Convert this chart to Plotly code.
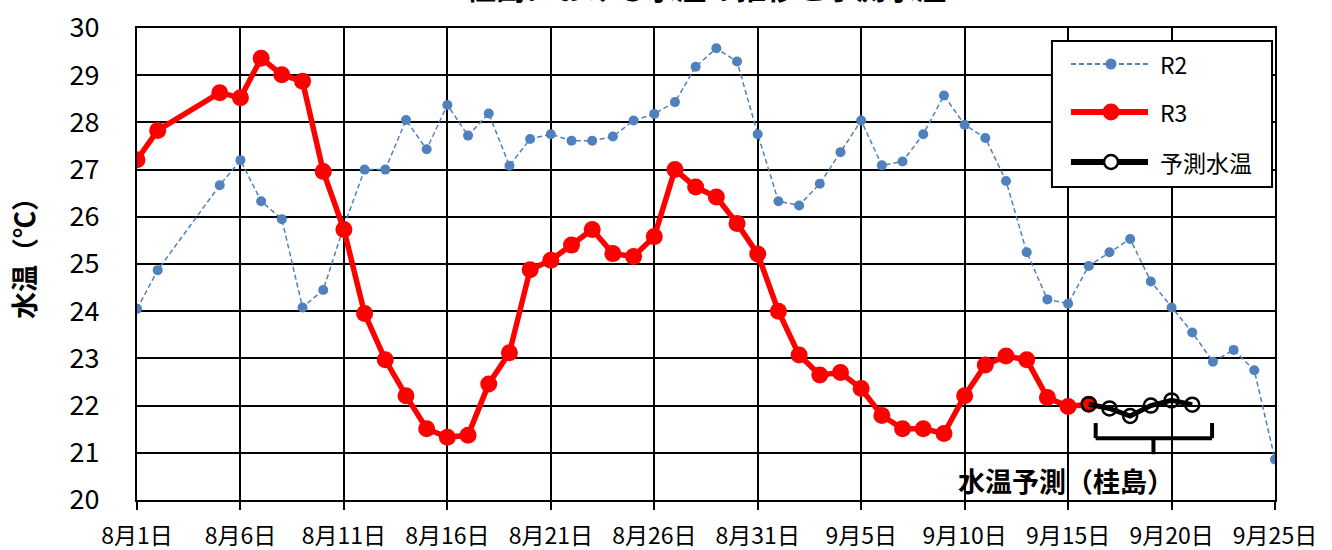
import plotly.graph_objects as go

# ---- data ----
r2_dates = ["2021-08-01", "2021-08-02", "2021-08-05", "2021-08-06", "2021-08-07", "2021-08-08",
            "2021-08-09", "2021-08-10", "2021-08-11", "2021-08-12", "2021-08-13", "2021-08-14",
            "2021-08-15", "2021-08-16", "2021-08-17", "2021-08-18", "2021-08-19", "2021-08-20",
            "2021-08-21", "2021-08-22", "2021-08-23", "2021-08-24", "2021-08-25", "2021-08-26",
            "2021-08-27", "2021-08-28", "2021-08-29", "2021-08-30", "2021-08-31", "2021-09-01",
            "2021-09-02", "2021-09-03", "2021-09-04", "2021-09-05", "2021-09-06", "2021-09-07",
            "2021-09-08", "2021-09-09", "2021-09-10", "2021-09-11", "2021-09-12", "2021-09-13",
            "2021-09-14", "2021-09-15", "2021-09-16", "2021-09-17", "2021-09-18", "2021-09-19",
            "2021-09-20", "2021-09-21", "2021-09-22", "2021-09-23", "2021-09-24", "2021-09-25"]
r2_values = [24.05, 24.87, 26.67, 27.2, 26.33, 25.95,
             24.08, 24.45, 25.8, 27.0, 27.0, 28.05,
             27.43, 28.37, 27.72, 28.19, 27.08, 27.65,
             27.75, 27.61, 27.61, 27.70, 28.04, 28.18,
             28.43, 29.18, 29.57, 29.29, 27.75, 26.33,
             26.24, 26.70, 27.37, 28.04, 27.09, 27.17,
             27.75, 28.57, 27.95, 27.67, 26.76, 25.25,
             24.25, 24.16, 24.96, 25.25, 25.53, 24.63,
             24.08, 23.55, 22.93, 23.18, 22.75, 20.86]

r3_dates = ["2021-08-01", "2021-08-02", "2021-08-05", "2021-08-06", "2021-08-07", "2021-08-08",
            "2021-08-09", "2021-08-10", "2021-08-11", "2021-08-12", "2021-08-13", "2021-08-14",
            "2021-08-15", "2021-08-16", "2021-08-17", "2021-08-18", "2021-08-19", "2021-08-20",
            "2021-08-21", "2021-08-22", "2021-08-23", "2021-08-24", "2021-08-25", "2021-08-26",
            "2021-08-27", "2021-08-28", "2021-08-29", "2021-08-30", "2021-08-31", "2021-09-01",
            "2021-09-02", "2021-09-03", "2021-09-04", "2021-09-05", "2021-09-06", "2021-09-07",
            "2021-09-08", "2021-09-09", "2021-09-10", "2021-09-11", "2021-09-12", "2021-09-13",
            "2021-09-14", "2021-09-15", "2021-09-16"]
r3_values = [27.21, 27.83, 28.63, 28.52, 29.36, 29.01,
             28.87, 26.96, 25.73, 23.95, 22.97, 22.21,
             21.51, 21.33, 21.37, 22.46, 23.12, 24.88,
             25.08, 25.40, 25.73, 25.22, 25.16, 25.58,
             27.0, 26.63, 26.42, 25.86, 25.21, 24.0,
             23.07, 22.65, 22.70, 22.36, 21.79, 21.51,
             21.51, 21.41, 22.21, 22.86, 23.05, 22.97,
             22.17, 21.98, 22.03]

fc_dates = ["2021-09-16", "2021-09-17", "2021-09-18", "2021-09-19", "2021-09-20", "2021-09-21"]
fc_values = [22.03, 21.94, 21.78, 22.0, 22.11, 22.02]

series_names = ["R2", "R3", "予測水温"]

tick_dates = ["2021-08-01", "2021-08-06", "2021-08-11", "2021-08-16", "2021-08-21", "2021-08-26",
              "2021-08-31", "2021-09-05", "2021-09-10", "2021-09-15", "2021-09-20", "2021-09-25"]
tick_labels = ["8月1日", "8月6日", "8月11日", "8月16日", "8月21日", "8月26日",
               "8月31日", "9月5日", "9月10日", "9月15日", "9月20日", "9月25日"]
y_ticks = [20, 21, 22, 23, 24, 25, 26, 27, 28, 29, 30]

FONT = "Noto Sans CJK JP"
C_R2 = "#4F81BD"
C_R3 = "#FF0000"
C_FC = "#000000"

fig = go.Figure()
fig.add_trace(go.Scatter(
    x=r2_dates, y=r2_values, name=series_names[0], mode="lines+markers",
    line=dict(color=C_R2, width=1.5, dash="5px,3px"),
    marker=dict(color=C_R2, size=10), showlegend=False,
))
fig.add_trace(go.Scatter(
    x=r3_dates, y=r3_values, name=series_names[1], mode="lines+markers",
    line=dict(color=C_R3, width=5.5),
    marker=dict(color=C_R3, size=17), showlegend=False,
))
fig.add_trace(go.Scatter(
    x=fc_dates, y=fc_values, name=series_names[2], mode="lines+markers",
    line=dict(color=C_FC, width=5),
    marker=dict(color=C_FC, size=14, symbol="circle-open", line=dict(width=2.5)),
    showlegend=False,
))

# ---- custom legend box (paper coordinates) ----
fig.add_shape(type="rect", xref="paper", yref="paper", x0=0.804, x1=0.9974, y0=0.6631, y1=0.9725,
              line=dict(color="black", width=2), fillcolor="white", layer="above")
leg_y = [0.9237, 0.8220, 0.7161]
lx0, lx1, lxm, ltx = 0.8207, 0.8884, 0.8559, 0.8972
styles = [
    dict(line=dict(color=C_R2, width=2, dash="5px,3px"), msize=11, mfill=C_R2, mline=C_R2, mlw=0),
    dict(line=dict(color=C_R3, width=6), msize=17, mfill=C_R3, mline=C_R3, mlw=0),
    dict(line=dict(color=C_FC, width=6), msize=14, mfill="white", mline=C_FC, mlw=2.5),
]
for yv, nm, st in zip(leg_y, series_names, styles):
    fig.add_shape(type="line", xref="paper", yref="paper", x0=lx0, x1=lx1, y0=yv, y1=yv,
                  line=st["line"], layer="above")
    r = st["msize"] / 2
    fig.add_shape(type="circle", xref="paper", yref="paper", xsizemode="pixel", ysizemode="pixel",
                  xanchor=lxm, yanchor=yv, x0=-r, x1=r, y0=-r, y1=r,
                  fillcolor=st["mfill"], line=dict(color=st["mline"], width=st["mlw"]), layer="above")
    fig.add_annotation(x=ltx, y=yv, xref="paper", yref="paper", xanchor="left", yanchor="middle",
                       text=nm, showarrow=False, font=dict(family=FONT, size=23, color="black"))

# ---- bracket under forecast ----
bk = dict(color="black", width=4)
fig.add_shape(type="line", xref="x", yref="y", x0="2021-09-16 08:00", x1="2021-09-16 08:00", y0=21.63, y1=21.31, line=bk)
fig.add_shape(type="line", xref="x", yref="y", x0="2021-09-21 23:00", x1="2021-09-21 23:00", y0=21.63, y1=21.31, line=bk)
fig.add_shape(type="line", xref="x", yref="y", x0="2021-09-16 08:00", x1="2021-09-21 23:00", y0=21.31, y1=21.31, line=bk)
fig.add_shape(type="line", xref="x", yref="y", x0="2021-09-19 03:00", x1="2021-09-19 03:00", y0=21.31, y1=20.97, line=bk)

fig.add_annotation(x="2021-09-14 21:00", y=20.42, xref="x", yref="y", text="<b>水温予測（桂島）</b>",
                   showarrow=False, font=dict(family=FONT, size=27, color="black"))

# y-axis title
fig.add_annotation(x=0, y=0.5, xref="paper", yref="paper", xanchor="center", yanchor="middle",
                   xshift=-114, yshift=12,
                   text="<b>水温（℃）</b>", textangle=-90, showarrow=False,
                   font=dict(family=FONT, size=27, color="black"))

# chart title (cut off at the top of the image, as in the reference)
fig.add_annotation(x=0.5, y=1, xref="paper", yref="paper", yanchor="bottom", yshift=18,
                   text="<b>桂島における水温の推移と予測水温</b>", showarrow=False,
                   font=dict(family=FONT, size=30, color="black"))

fig.update_layout(
    width=1332, height=550,
    margin=dict(l=137, r=57, t=28, b=50, autoexpand=False),
    paper_bgcolor="white", plot_bgcolor="white",
    font=dict(family=FONT, color="black"),
    showlegend=False,
    xaxis=dict(
        type="date", range=["2021-08-01", "2021-09-25"], automargin=False,
        tickvals=tick_dates, ticktext=tick_labels,
        showgrid=True, gridcolor="black", gridwidth=2,
        showline=True, linecolor="black", linewidth=2, mirror=True,
        ticks="outside", ticklen=8, tickwidth=2, tickcolor="black",
        ticklabelstandoff=6,
        tickfont=dict(family=FONT, size=23, color="black"),
        zeroline=False,
    ),
    yaxis=dict(
        range=[20, 30], tickvals=y_ticks, automargin=False,
        showgrid=True, gridcolor="black", gridwidth=2,
        showline=True, linecolor="black", linewidth=2, mirror=True,
        ticks="", ticklabelstandoff=30,
        tickfont=dict(family=FONT, size=27, color="black"),
        zeroline=False,
    ),
)

fig.write_html("out.html", config={"displayModeBar": False},
               post_script="document.body.style.margin='0';")
